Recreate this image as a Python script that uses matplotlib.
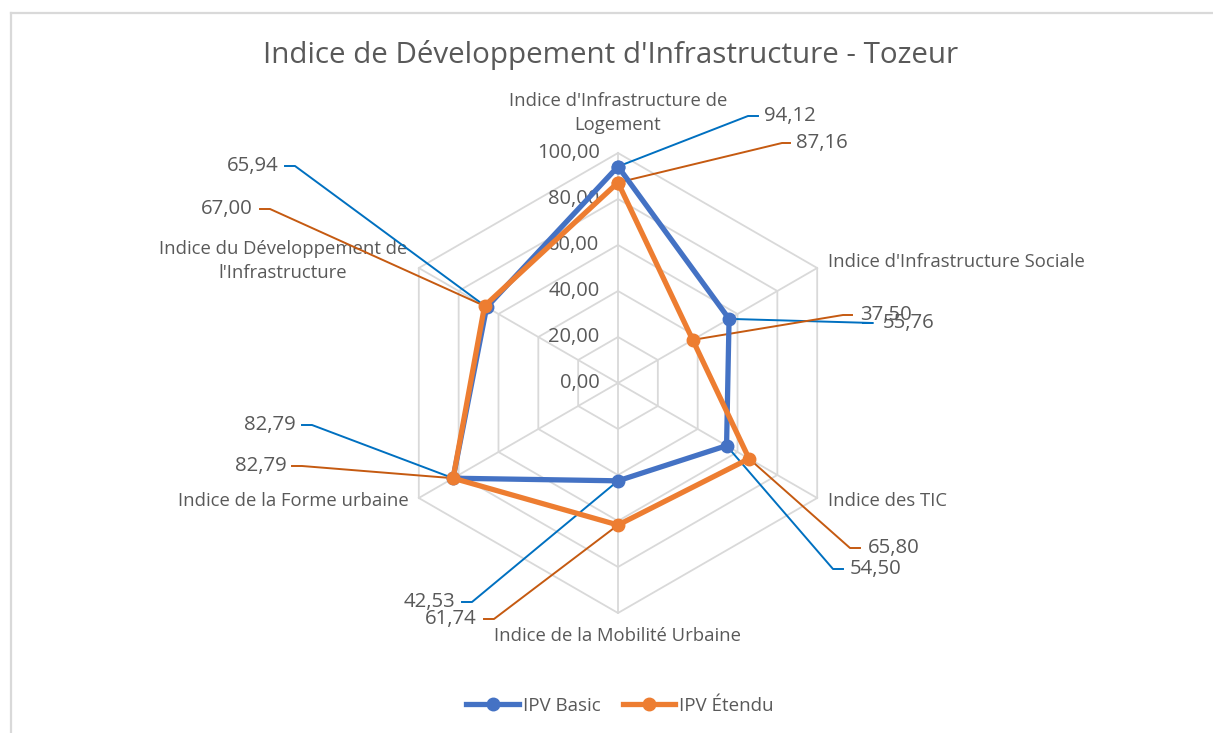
import numpy as np
import matplotlib
matplotlib.use("Agg")
import matplotlib.pyplot as plt

categories = ["Indice d'Infrastructure de\nLogement",
              "Indice d'Infrastructure Sociale",
              "Indice des TIC",
              "Indice de la Mobilité Urbaine",
              "Indice de la Forme urbaine",
              "Indice du Développement de\nl'Infrastructure"]
ipv_basic = [94.12, 55.76, 54.50, 42.53, 82.79, 65.94]
ipv_etendu = [87.16, 37.50, 65.80, 61.74, 82.79, 67.00]
ticks = [0, 20, 40, 60, 80, 100]
series_names = ["IPV Basic", "IPV Étendu"]
title = "Indice de Développement d'Infrastructure - Tozeur"

plt.rcParams['font.family'] = ['Open Sans', 'DejaVu Sans']
GREY = '#595959'
GRID = '#d9d9d9'
BLUE, ORANGE = '#4472C4', '#ED7D31'
LBLUE, LORANGE = '#0070C0', '#C55A11'

W, H = 1213, 733
CX, CY, R = 618, 383, 230  # centre and radius in image pixels
fig = plt.figure(figsize=(W / 100, H / 100), dpi=100)
ax = fig.add_axes([0, 0, 1, 1])
s = R / 100.0
ax.set_xlim(-CX / s, (W - CX) / s)
ax.set_ylim(-(H - CY) / s, CY / s)
ax.set_aspect('equal')
ax.axis('off')


def px(x, y):
    # image pixel (top-left origin) -> data coords
    return (x - CX) / s, (CY - y) / s


n = len(categories)
theta = np.arange(n) * 2 * np.pi / n


def xy(vals):
    v = np.asarray(vals, dtype=float)
    return v * np.sin(theta), v * np.cos(theta)


# grid hexagons and spokes
for t in ticks[1:]:
    gx, gy = xy([t] * n)
    ax.plot(np.append(gx, gx[0]), np.append(gy, gy[0]), color=GRID, lw=1.3, zorder=1)
ox, oy = xy([100] * n)
for i in range(n):
    ax.plot([0, ox[i]], [0, oy[i]], color=GRID, lw=1.3, zorder=1)

# tick labels
for t in ticks:
    ax.text(-8, t, f"{t:.2f}".replace('.', ','), ha='right', va='center',
            fontsize=14.5, color=GREY, zorder=2)

# series
lines = []
for vals, col, name in [(ipv_basic, BLUE, series_names[0]), (ipv_etendu, ORANGE, series_names[1])]:
    x, y = xy(vals)
    ln, = ax.plot(np.append(x, x[0]), np.append(y, y[0]), color=col, lw=3.8,
                  marker='o', markersize=9, label=name, zorder=4, solid_joinstyle='round')
    lines.append(ln)

# category labels (image-pixel positions)
cat_pos = [(618, 113, 'center'), (828, 262, 'left'), (828, 501, 'left'),
           (618, 636, 'center'), (409, 501, 'right'), (283, 261, 'center')]
for lab, (lx, ly, ha) in zip(categories, cat_pos):
    dx, dy = px(lx, ly)
    ax.text(dx, dy, lab, ha=ha, va='center', fontsize=13.3, color=GREY,
            linespacing=1.4, zorder=3)

# data labels with leader lines: (elbow x, elbow y, stub end x, text x, ha)
basic_lbl = [(748, 116, 758, 764, 'left'), (873, 323, 863, 883, 'left'),
             (833, 569, 843, 850, 'left'), (472, 602, 462, 455, 'right'),
             (312, 425, 302, 296, 'right'), (295, 166, 285, 279, 'right')]
etendu_lbl = [(782, 143, 790, 796, 'left'), (843, 315, 852, 860, 'left'),
              (850, 548, 860, 868, 'left'), (494, 619, 484, 477, 'right'),
              (302, 466, 292, 287, 'right'), (270, 209, 260, 253, 'right')]
for vals, lbls, col in [(ipv_basic, basic_lbl, LBLUE), (ipv_etendu, etendu_lbl, LORANGE)]:
    x, y = xy(vals)
    for i, (ex, ey, sx, tx, ha) in enumerate(lbls):
        e = px(ex, ey)
        st = px(sx, ey)
        ax.plot([x[i], e[0], st[0]], [y[i], e[1], st[1]], color=col, lw=1.4, zorder=3)
        t = px(tx, ey)
        ax.text(t[0], t[1], f"{vals[i]:.2f}".replace('.', ','), ha=ha, va='center',
                fontsize=14.7, color=GREY, zorder=5)

ax.text(*px(611, 55), title, ha='center', va='center', fontsize=21.3, color=GREY)

leg = fig.legend(handles=lines, loc='center', bbox_to_anchor=(620 / W, 1 - 706 / H),
                 ncol=2, frameon=False, fontsize=13.5, handlelength=2.8,
                 columnspacing=1.2, handletextpad=0.2)
for t in leg.get_texts():
    t.set_color(GREY)

# chart border (top and left)
fig.add_artist(plt.Line2D([11 / W, 11 / W], [0, 1 - 13 / H], color=GRID, lw=1.6))
fig.add_artist(plt.Line2D([11 / W, 1], [1 - 13 / H, 1 - 13 / H], color=GRID, lw=1.6))

fig.savefig("out.png", dpi=100)
